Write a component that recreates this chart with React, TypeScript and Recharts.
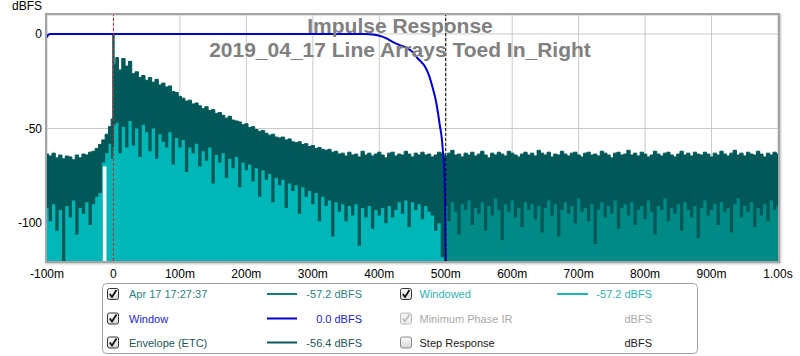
import React from "react";
import {
  ComposedChart,
  Area,
  Line,
  XAxis,
  YAxis,
  CartesianGrid,
  ReferenceLine,
  ReferenceArea,
} from "recharts";

// time axis in milliseconds
const timeMs = [
  -100, -95, -90, -85, -80, -75, -70, -65, -60, -55, -50, -45, -40, -35, -30, -25, -20, -15, -10, -5,
  -2, 0, 2,
  5, 10, 15, 20, 25, 30, 35, 40, 45, 50, 55, 60, 65, 70, 75, 80, 85, 90, 95, 100,
  105, 110, 115, 120, 125, 130, 135, 140, 145, 150, 155, 160, 165, 170, 175, 180, 185, 190, 195, 200,
  205, 210, 215, 220, 225, 230, 235, 240, 245, 250, 255, 260, 265, 270, 275, 280, 285, 290, 295, 300,
  305, 310, 315, 320, 325, 330, 335, 340, 345, 350, 355, 360, 365, 370, 375, 380, 385, 390, 395, 400,
  405, 410, 415, 420, 425, 430, 435, 440, 445, 450, 455, 460, 465, 470, 475, 480, 485, 490, 495, 500,
  505, 510, 515, 520, 525, 530, 535, 540, 545, 550, 555, 560, 565, 570, 575, 580, 585, 590, 595, 600,
  605, 610, 615, 620, 625, 630, 635, 640, 645, 650, 655, 660, 665, 670, 675, 680, 685, 690, 695, 700,
  705, 710, 715, 720, 725, 730, 735, 740, 745, 750, 755, 760, 765, 770, 775, 780, 785, 790, 795, 800,
  805, 810, 815, 820, 825, 830, 835, 840, 845, 850, 855, 860, 865, 870, 875, 880, 885, 890, 895, 900,
  905, 910, 915, 920, 925, 930, 935, 940, 945, 950, 955, 960, 965, 970, 975, 980, 985, 990, 995, 1000,
];

// Envelope (ETC), dBFS
const etcDb = [
  -63.5, -64.5, -63, -65.5, -64, -66, -64.5, -65, -66.5, -64, -65.5, -63.5, -64, -62.5, -62, -60.5, -58.5, -56, -53, -49,
  -45, 0, -16,
  -12.5, -19, -13, -17, -14.5, -21, -20, -23, -22, -24.5, -23, -25.5, -24, -27, -26, -28, -27.5, -30.5, -31, -33,
  -34, -35.5, -35, -37, -36.5, -38, -39.5, -38.5, -40.5, -40,
  -42, -41.5, -43, -44.5, -43.5, -45.5, -46, -46.5, -48, -47.5,
  -49.5, -49, -50.5, -51.5, -51, -52.5, -53.5, -53, -54.5, -55,
  -54.5, -56, -55.5, -57, -57.5, -57, -58.5, -58, -59.5, -59,
  -60.5, -60, -61, -61.5, -61, -62.5, -62, -63.5,
  -63, -64.5, -62.5, -64, -63.5, -65, -62, -64, -63, -64.5, -63.5, -62.5,
  -64, -65.5, -63, -62.5, -64.5, -63.5, -64, -62, -63.5, -65, -63, -64,
  -62.5, -64, -63.5, -65, -64, -62.5, -63, -64.5, -63, -61.5, -64, -63.5,
  -65, -63, -64, -62.5, -64.5, -63.5, -62, -64, -65.5, -63, -64, -62.5,
  -63.5, -64.5, -62, -63, -64, -65, -63.5, -62.5, -64, -63, -64.5, -61.5,
  -63, -64, -62.5, -65, -63.5, -64, -62, -63.5, -64.5, -63, -62.5, -64,
  -65, -63, -62.5, -64, -63.5, -64.5, -62, -63, -64, -65.5, -63, -62.5,
  -64, -63.5, -61.5, -64, -63, -64.5, -62.5, -63.5, -65, -64, -62, -63.5,
  -64.5, -63, -62.5, -64, -65, -63.5, -62, -64, -63, -64.5, -62.5, -63.5,
  -64, -62.5, -63.5, -65, -63, -64, -62, -63.5, -64.5, -63, -61.5, -64,
  -63, -64.5, -62.5, -63.5, -64, -62, -63.5, -65, -63, -64, -62.5, -63.5,
];

// Windowed IR, dBFS, from -100 ms to 500 ms
const windowedDb = [
  -92, -99, -90, -104, -93, -120, -91, -97, -88, -106, -92, -95, -89, -101, -90, -86, -84, -68, -63, -58,
  -66, -60, -48,
  -47, -63, -49, -60, -46, -59, -50, -65, -48, -52, -62, -50, -66, -53, -57, -60, -52, -69, -55, -60,
  -56, -73, -60, -63, -58, -70, -62, -67, -60, -79, -64, -68, -63, -76, -66, -71, -65, -81, -68, -72,
  -69, -78, -71, -86, -72, -77, -74, -89, -76, -80, -77, -92, -79, -83, -80, -95, -81, -86, -83, -90,
  -84, -99, -86, -91, -88, -107, -89, -94, -90, -99, -91, -96, -90, -112, -92, -97, -91, -103, -93, -96,
  -92, -100, -91, -97, -93, -89, -95, -88, -102, -89, -93, -90, -98, -91, -94, -96, -104, -100, -118, -120,
];

// Apr 17 17:27:37 raw IR, dBFS, from 500 ms to 1000 ms
const irDb = [
  -91, -99, -89, -94, -106, -90, -93, -88, -101, -92,
  -95, -89, -104, -91, -96, -87, -93, -109, -90, -94,
  -88, -97, -92, -102, -89, -93, -90, -98, -91, -105,
  -92, -88, -96, -90, -107, -93, -89, -95, -91, -100,
  -87, -94, -92, -99, -90, -111, -93, -89, -97, -91,
  -95, -88, -103, -92, -90, -96, -89, -101, -93, -91,
  -98, -88, -94, -106, -91, -93, -87, -99, -92, -95,
  -90, -104, -89, -93, -97, -91, -108, -92, -88, -96,
  -93, -90, -101, -89, -94, -92, -105, -90, -87, -97,
  -91, -94, -89, -102, -92, -96, -90, -99, -88, -93,
  -91,
];

// Window function, dBFS
const windowTimeMs = [-100, -99, -98, -96, -94, 380, 390, 400, 410, 420, 430, 440, 450, 458, 465, 470, 475, 480, 485, 488, 491, 494, 496, 498, 499, 500];
const windowDb = [-1.8, -0.9, -0.4, -0.1, 0, 0, -0.3, -1, -2.2, -4.2, -5.8, -7.1, -9.5, -13, -15.5, -18, -22, -28, -35, -41, -48, -55, -63, -75, -90, -120];

const xTicks = [-100, 0, 100, 200, 300, 400, 500, 600, 700, 800, 900, 1000];
const xTickLabels = ["-100m", "0", "100m", "200m", "300m", "400m", "500m", "600m", "700m", "800m", "900m", "1.00s"];
const yTicks = [0, -50, -100];

const titleLines = ["Impulse Response", "2019_04_17 Line Arrays Toed In_Right"];

const legendLeft = [
  { label: "Apr 17 17:27:37", value: "-57.2 dBFS", color: "#2a8282", line: "#137a7a", state: "checked" },
  { label: "Window", value: "0.0 dBFS", color: "#2424c8", line: "#0000cc", state: "checked" },
  { label: "Envelope (ETC)", value: "-56.4 dBFS", color: "#1d5656", line: "#0b5858", state: "checked" },
];
const legendRight = [
  { label: "Windowed", value: "-57.2 dBFS", color: "#2fb2b2", line: "#22b4b4", state: "checked" },
  { label: "Minimum Phase IR", value: "dBFS", color: "#a9a9a9", line: "", state: "disabled" },
  { label: "Step Response", value: "dBFS", color: "#1a1a1a", line: "", state: "unchecked" },
];

const irStart = timeMs.indexOf(500);
const rows = timeMs.map((t, i) => ({
  t,
  etc: etcDb[i],
  windowed: i < windowedDb.length ? windowedDb[i] : null,
  ir: i >= irStart ? irDb[i - irStart] : null,
}));
const windowRows = windowTimeMs.map((t, i) => ({ t, w: windowDb[i] }));

const FONT = "'Liberation Sans', Arial, sans-serif";

function CheckBox({ x, cy, state }: { x: number; cy: number; state: string }) {
  const disabled = state === "disabled";
  const checked = state === "checked" || disabled;
  const y = cy - 6;
  return (
    <g>
      <rect
        x={x + 0.5}
        y={y + 0.5}
        width={11}
        height={11}
        rx={2}
        fill={disabled ? "#f0f0f0" : "url(#cbgrad)"}
        stroke={disabled ? "#bdbdbd" : state === "unchecked" ? "#8a8a8a" : "#333"}
        strokeWidth={1}
      />
      {checked && (
        <path
          d={`M ${x + 2.8} ${cy} L ${x + 5} ${cy + 3} L ${x + 9.5} ${cy - 4}`}
          fill="none"
          stroke={disabled ? "#bdbdbd" : "#111"}
          strokeWidth={1.8}
        />
      )}
    </g>
  );
}

export default function App() {
  const rowY = [294, 318.5, 342.5];
  return (
    <div style={{ position: "absolute", left: 0, top: 0, width: 800, height: 356, background: "#fff" }}>
      <ComposedChart
        width={800}
        height={356}
        data={rows}
        margin={{ top: 15, right: 22, bottom: 75, left: 7 }}
      >
        <CartesianGrid stroke="#c9c9c9" strokeWidth={1} />
        <XAxis
          dataKey="t"
          type="number"
          domain={[-100, 1000]}
          ticks={xTicks}
          tickFormatter={(v: number) => xTickLabels[xTicks.indexOf(v)] ?? String(v)}
          axisLine={false}
          tickLine={false}
          height={20}
          interval={0}
          tick={{ fill: "#000", fontSize: 12, fontFamily: FONT }}
        />
        <YAxis
          type="number"
          domain={[-120, 10]}
          ticks={yTicks}
          width={40}
          axisLine={false}
          tickLine={false}
          tickSize={3}
          tickMargin={2}
          interval={0}
          tick={{ fill: "#000", fontSize: 12, fontFamily: FONT }}
        />
        <Area
          dataKey="etc"
          type="step"
          baseValue={-120}
          fill="#005858"
          fillOpacity={1}
          stroke="#005858"
          strokeWidth={1}
          isAnimationActive={false}
          dot={false}
          activeDot={false}
        />
        <Area
          dataKey="windowed"
          type="step"
          baseValue={-120}
          fill="#00b6b6"
          fillOpacity={1}
          stroke="none"
          isAnimationActive={false}
          dot={false}
          activeDot={false}
        />
        <Area
          dataKey="ir"
          type="step"
          baseValue={-120}
          fill="#008a86"
          fillOpacity={1}
          stroke="none"
          isAnimationActive={false}
          dot={false}
          activeDot={false}
        />
        <ReferenceArea x1={-16} x2={-10.5} y1={-120} y2={-70} fill="#ffffff" fillOpacity={1} stroke="none" />
        <Line
          data={windowRows}
          dataKey="w"
          type="monotone"
          stroke="#0000cc"
          strokeWidth={2}
          dot={false}
          activeDot={false}
          isAnimationActive={false}
        />
        <ReferenceLine x={0} stroke="#b0302a" strokeDasharray="3 2" strokeWidth={1} />
        <ReferenceLine x={500} stroke="#000" strokeDasharray="3 2" strokeWidth={1} />
      </ComposedChart>
      <div
        style={{
          position: "absolute",
          left: 45,
          top: 13,
          width: 731,
          height: 246,
          border: "2px solid #a4a4a4",
          boxShadow: "1px 1px 2px rgba(0,0,0,0.25)",
          pointerEvents: "none",
        }}
      />
      <svg
        width={800}
        height={356}
        style={{ position: "absolute", left: 0, top: 0, pointerEvents: "none" }}
      >
        <defs>
          <linearGradient id="cbgrad" x1="0" y1="0" x2="0" y2="1">
            <stop offset="0" stopColor="#fbfbfb" />
            <stop offset="1" stopColor="#d8d8d8" />
          </linearGradient>
        </defs>
        <text x={12} y={10} fontFamily={FONT} fontSize={12} fill="#000">
          dBFS
        </text>
        {titleLines.map((s, i) => (
          <text
            key={s}
            x={400}
            y={33 + i * 24}
            textAnchor="middle"
            fontFamily={FONT}
            fontSize={21}
            fontWeight="bold"
            fill="#808080"
          >
            {s}
          </text>
        ))}
        <rect x={102.5} y={283.5} width={595} height={70} rx={4} fill="#fff" stroke="#a0a0a0" />
        {legendLeft.map((it, i) => (
          <g key={it.label}>
            <CheckBox x={107} cy={rowY[i]} state={it.state} />
            <text x={129} y={rowY[i] + 4} fontFamily={FONT} fontSize={11} fill={it.color}>
              {it.label}
            </text>
            {it.line && <line x1={267} x2={297} y1={rowY[i]} y2={rowY[i]} stroke={it.line} strokeWidth={2} />}
            <text x={362} y={rowY[i] + 4} textAnchor="end" fontFamily={FONT} fontSize={11} fill={it.color}>
              {it.value}
            </text>
          </g>
        ))}
        {legendRight.map((it, i) => (
          <g key={it.label}>
            <CheckBox x={400} cy={rowY[i]} state={it.state} />
            <text x={419.5} y={rowY[i] + 4} fontFamily={FONT} fontSize={11} fill={it.color}>
              {it.label}
            </text>
            {it.line && <line x1={557} x2={588} y1={rowY[i]} y2={rowY[i]} stroke={it.line} strokeWidth={2} />}
            <text x={652} y={rowY[i] + 4} textAnchor="end" fontFamily={FONT} fontSize={11} fill={it.color}>
              {it.value}
            </text>
          </g>
        ))}
      </svg>
    </div>
  );
}
